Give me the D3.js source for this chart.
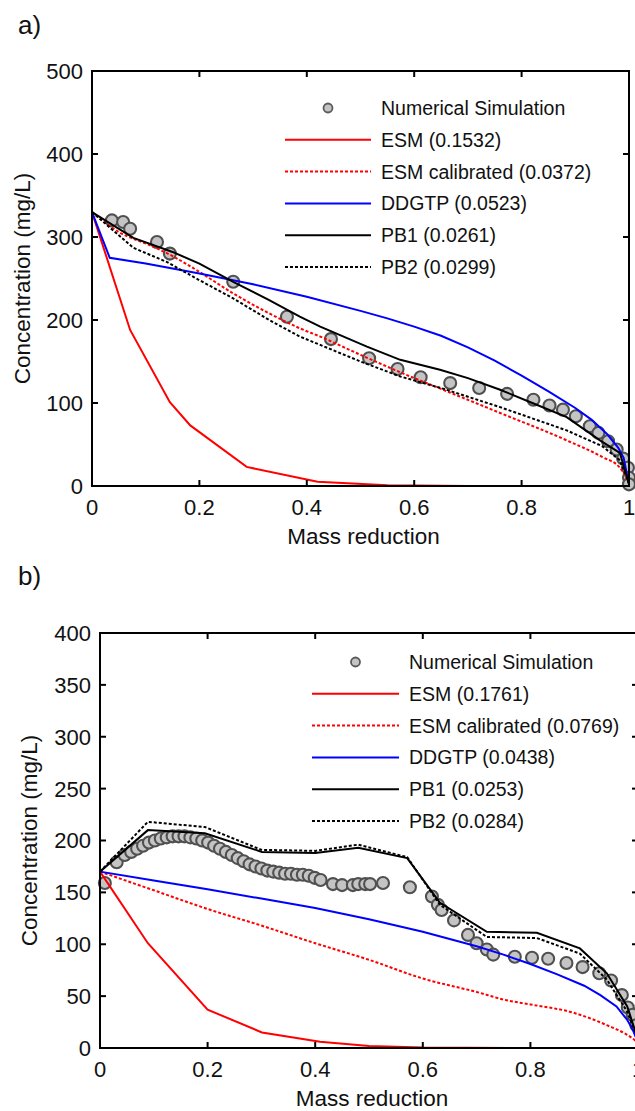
<!DOCTYPE html>
<html>
<head>
<meta charset="utf-8">
<script src="https://cdn.jsdelivr.net/npm/d3@7"></script>
<style>
  body { margin: 0; background: #fff; }
  text { font-family: "Liberation Sans", Arial, sans-serif; fill: #111; }
</style>
</head>
<body>
<svg id="chart"></svg>
<script>
// ---- data ----
const xTicks = [0, 0.2, 0.4, 0.6, 0.8, 1];
const xTickLabels = ["0", "0.2", "0.4", "0.6", "0.8", "1"];
const yTicksA = [0, 100, 200, 300, 400, 500];
const yTicksB = [0, 50, 100, 150, 200, 250, 300, 350, 400];

const seriesNames = ["Numerical Simulation", "ESM", "ESM calibrated", "DDGTP", "PB1", "PB2"];
const errorsA = ["0.1532", "0.0372", "0.0523", "0.0261", "0.0299"];
const errorsB = ["0.1761", "0.0769", "0.0438", "0.0253", "0.0284"];

// panel a)
const simA = [[0.037,320],[0.058,318],[0.071,310],[0.121,294],[0.145,280],[0.263,246],[0.363,204],
  [0.445,177],[0.516,154],[0.569,141],[0.612,131],[0.667,124],[0.721,118],[0.773,111],[0.822,104],
  [0.852,97],[0.877,92],[0.901,84],[0.927,72],[0.943,64],[0.961,54],[0.977,44],[0.989,33],
  [0.998,22],[1.0,10],[1.0,2]];
const esmA = [[0,330],[0.071,188],[0.145,101],[0.183,73],[0.288,23],[0.42,5],[0.55,1],[0.7,0],[1,0]];
const esmCalA = [[0,330],[0.05,306],[0.108,290],[0.15,277],[0.2,258],[0.263,232],[0.33,208],[0.387,190],
  [0.425,180],[0.5,158],[0.574,137],[0.65,117],[0.76,88],[0.884,55],[0.95,35],[0.983,22],[1,4]];
const ddgtpA = [[0,330],[0.033,275],[0.1,268],[0.2,256],[0.3,243],[0.4,228],[0.5,211],[0.55,202],
  [0.6,192],[0.65,181],[0.7,167],[0.75,151],[0.8,133],[0.85,114],[0.9,94],[0.93,80],[0.96,62],
  [0.98,46],[0.99,34],[1,2]];
const pb1A = [[0,330],[0.077,299],[0.15,282],[0.2,268],[0.263,246],[0.33,224],[0.387,204],[0.425,192],
  [0.512,168],[0.574,152],[0.648,140],[0.7,130],[0.76,116],[0.82,100],[0.884,83],[0.946,55],
  [0.983,40],[1,2]];
const pb2A = [[0,330],[0.077,287],[0.139,270],[0.2,248],[0.263,226],[0.33,200],[0.387,180],[0.425,170],
  [0.5,150],[0.574,132],[0.65,118],[0.76,95],[0.884,67],[0.95,48],[0.983,31],[1,3]];

// panel b)
const simB = [[0.009,159],[0.031,179],[0.046,186],[0.058,189],[0.069,192],[0.08,195],[0.091,198],
  [0.102,200],[0.113,202],[0.124,203],[0.135,204],[0.146,204],[0.157,204],[0.168,203],[0.179,202],
  [0.19,200],[0.201,198],[0.212,195],[0.223,192],[0.234,189],[0.245,186],[0.256,183],[0.267,180],
  [0.278,177],[0.289,175],[0.3,173],[0.311,171],[0.322,170],[0.333,169],[0.344,168],[0.355,168],
  [0.366,167],[0.377,167],[0.388,166],[0.399,164],[0.41,162],[0.433,158],[0.45,157],[0.47,157],
  [0.48,158],[0.493,158],[0.502,158],[0.526,159],[0.576,155],[0.617,146],[0.628,138],[0.635,133],
  [0.658,123],[0.684,109],[0.7,101],[0.719,95],[0.731,90],[0.771,88],[0.803,87],[0.833,86],
  [0.867,82],[0.897,78],[0.928,72],[0.95,65],[0.97,51],[0.981,39],[0.99,32],[0.997,22]];
const esmB = [[0,170],[0.089,101],[0.2,37],[0.301,15],[0.409,6],[0.5,2],[0.6,0.5],[0.8,0],[1,0]];
const esmCalB = [[0,170],[0.1,152],[0.2,134],[0.3,118],[0.4,101],[0.5,85],[0.6,67],[0.7,54],
  [0.756,46],[0.8,42],[0.88,34],[0.942,22],[0.985,11],[1,5]];
const ddgtpB = [[0,170],[0.1,161.5],[0.2,153],[0.3,144],[0.4,135],[0.5,124],[0.6,112],[0.7,98],
  [0.75,90],[0.8,81],[0.85,71],[0.9,60],[0.93,51],[0.96,40],[0.98,27],[0.99,18],[1,5]];
const pb1B = [[0,170],[0.089,210],[0.195,207],[0.301,189],[0.4,188],[0.48,193],[0.571,183],
  [0.632,140],[0.719,112],[0.812,111],[0.892,96],[0.942,72],[0.98,40],[1,8]];
const pb2B = [[0,170],[0.089,218],[0.195,213],[0.3,191],[0.4,190],[0.48,196],[0.571,184],
  [0.632,138],[0.719,107],[0.812,106],[0.892,91],[0.942,66],[0.98,35],[1,8]];

const lineStyles = [
  { color: "#ff0000", dash: null,  smooth: false },  // ESM
  { color: "#ff0000", dash: "3,2", smooth: true },   // ESM calibrated
  { color: "#0000ff", dash: null,  smooth: false },  // DDGTP
  { color: "#000000", dash: null,  smooth: false },  // PB1
  { color: "#000000", dash: "3,2", smooth: false }   // PB2
];

const svg = d3.select("#chart").attr("width", 635).attr("height", 1111);
svg.append("rect").attr("width", 635).attr("height", 1111).attr("fill", "#fff");

function drawPanel(p) {
  const x = d3.scaleLinear().domain([0, 1]).range([p.left, p.right]);
  const y = d3.scaleLinear().domain([0, p.ymax]).range([p.bottom, p.top]);
  const g = svg.append("g");

  // panel letter
  g.append("text").attr("x", 18).attr("y", p.letterY)
    .style("font-size", "26px").text(p.letter);

  // tick labels
  g.selectAll(".xl").data(xTicks).enter().append("text")
    .attr("x", d => x(d)).attr("y", p.bottom + 29)
    .attr("text-anchor", "middle").style("font-size", "22px")
    .text((d, i) => xTickLabels[i]);
  g.selectAll(".yl").data(p.yTicks).enter().append("text")
    .attr("x", p.left - 9).attr("y", d => y(d)).attr("dy", "0.36em")
    .attr("text-anchor", "end").style("font-size", "22px")
    .text(d => d);

  // axis titles
  g.append("text").attr("x", (p.left + p.right) / 2 + 3).attr("y", p.bottom + 58)
    .attr("text-anchor", "middle").style("font-size", "22.5px").text("Mass reduction");
  g.append("text")
    .attr("transform", `translate(${p.titleX},${(p.top + p.bottom) / 2}) rotate(-90)`)
    .attr("text-anchor", "middle").style("font-size", "22.5px").text("Concentration (mg/L)");

  // simulation markers
  g.selectAll(".sim").data(p.sim).enter().append("circle")
    .attr("cx", d => x(d[0])).attr("cy", d => y(d[1])).attr("r", 6)
    .attr("fill", "#c4c4c4").attr("stroke", "#505050").attr("stroke-width", 2.1);

  // model curves
  const line = d3.line().x(d => x(d[0])).y(d => y(d[1]));
  const smoothLine = d3.line().x(d => x(d[0])).y(d => y(d[1])).curve(d3.curveMonotoneX);
  p.curves.forEach((c, i) => {
    const s = lineStyles[i];
    g.append("path").datum(c).attr("d", s.smooth ? smoothLine : line)
      .attr("fill", "none").attr("stroke", s.color)
      .attr("stroke-width", 2).attr("stroke-dasharray", s.dash);
  });

  // box + inward ticks
  const t = 6;
  g.append("rect").attr("x", p.left).attr("y", p.top)
    .attr("width", p.right - p.left).attr("height", p.bottom - p.top)
    .attr("fill", "none").attr("stroke", "#000").attr("stroke-width", 2);
  xTicks.forEach(d => {
    g.append("line").attr("x1", x(d)).attr("x2", x(d)).attr("y1", p.bottom).attr("y2", p.bottom - t)
      .attr("stroke", "#000").attr("stroke-width", 2);
    g.append("line").attr("x1", x(d)).attr("x2", x(d)).attr("y1", p.top).attr("y2", p.top + t)
      .attr("stroke", "#000").attr("stroke-width", 2);
  });
  p.yTicks.forEach(d => {
    g.append("line").attr("x1", p.left).attr("x2", p.left + t).attr("y1", y(d)).attr("y2", y(d))
      .attr("stroke", "#000").attr("stroke-width", 2);
    g.append("line").attr("x1", p.right).attr("x2", p.right - t).attr("y1", y(d)).attr("y2", y(d))
      .attr("stroke", "#000").attr("stroke-width", 2);
  });

  // legend
  const lg = g.append("g");
  seriesNames.forEach((name, i) => {
    const ly = p.legendY + i * 31.8;
    if (i === 0) {
      lg.append("circle").attr("cx", (p.legX0 + p.legX1) / 2).attr("cy", ly).attr("r", 4.5)
        .attr("fill", "#c4c4c4").attr("stroke", "#5a5a5a").attr("stroke-width", 1.8);
    } else {
      const s = lineStyles[i - 1];
      lg.append("line").attr("x1", p.legX0).attr("x2", p.legX1).attr("y1", ly).attr("y2", ly)
        .attr("stroke", s.color).attr("stroke-width", 2).attr("stroke-dasharray", s.dash);
    }
    lg.append("text").attr("x", p.legX1 + 10).attr("y", ly).attr("dy", "0.36em")
      .style("font-size", "19.5px")
      .text(i === 0 ? name : `${name} (${p.errors[i - 1]})`);
  });
}

drawPanel({
  letter: "a)", letterY: 34, left: 92, right: 629, top: 71, bottom: 486, ymax: 500,
  yTicks: yTicksA, titleX: 30, sim: simA, curves: [esmA, esmCalA, ddgtpA, pb1A, pb2A],
  errors: errorsA, legendY: 108, legX0: 285, legX1: 371
});
drawPanel({
  letter: "b)", letterY: 585, left: 100, right: 638, top: 633, bottom: 1048, ymax: 400,
  yTicks: yTicksB, titleX: 37, sim: simB, curves: [esmB, esmCalB, ddgtpB, pb1B, pb2B],
  errors: errorsB, legendY: 662, legX0: 312, legX1: 399
});
</script>
</body>
</html>
